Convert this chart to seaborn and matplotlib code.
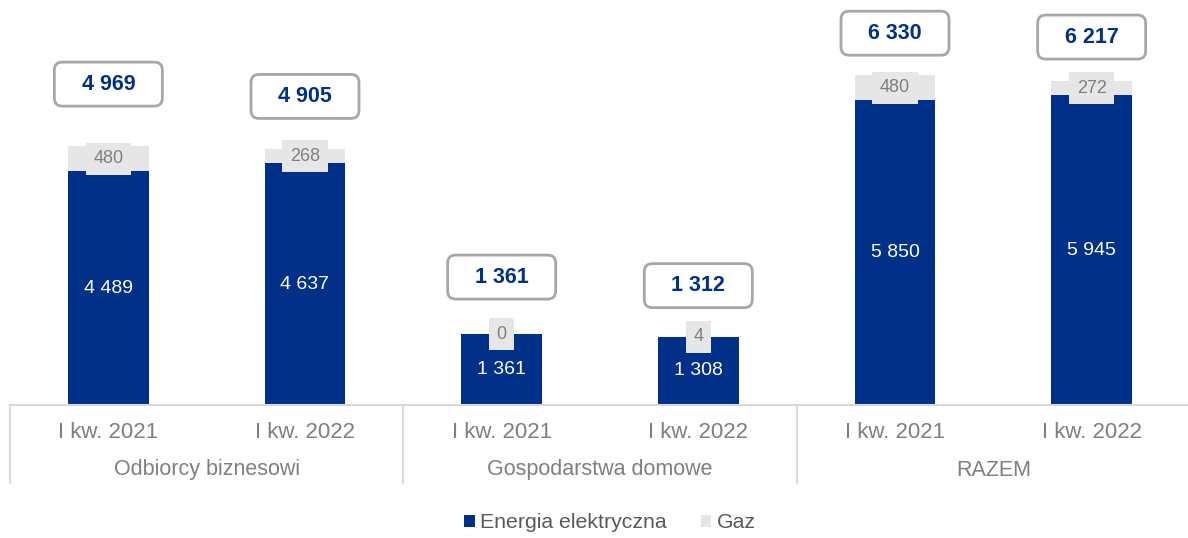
import matplotlib
matplotlib.use("Agg")
import matplotlib.pyplot as plt
import seaborn as sns
import pandas as pd
from matplotlib.patches import Patch, FancyBboxPatch
from matplotlib.transforms import IdentityTransform

groups = ["Odbiorcy biznesowi", "Gospodarstwa domowe", "RAZEM"]
periods = ["I kw. 2021", "I kw. 2022"]
energia = [4489, 4637, 1361, 1308, 5850, 5945]
gaz = [480, 268, 0, 4, 480, 272]
razem = [4969, 4905, 1361, 1312, 6330, 6217]

BLUE = "#003087"
GRAY = "#e6e6e6"
TXT = "#7f7f7f"

sns.set_theme(style="white")
plt.rcParams['font.family'] = ['Liberation Sans', 'DejaVu Sans']

keys = [f"{g}|{p}" for g in groups for p in periods]
df = pd.DataFrame({"key": keys, "energia": energia, "gaz": gaz,
                   "total": [e + g for e, g in zip(energia, gaz)]})

DPI = 100
fig = plt.figure(figsize=(11.88, 5.38), dpi=DPI)
W, H = 1188, 538
ax = fig.add_axes([10 / W, (H - 405) / H, 1180 / W, 405 / H])

sns.barplot(data=df, x="key", y="total", order=keys, color=GRAY, width=0.41,
            saturation=1, ax=ax, linewidth=0)
sns.barplot(data=df, x="key", y="energia", order=keys, color=BLUE, width=0.41,
            saturation=1, ax=ax, linewidth=0)

ax.set_xlim(-0.5, 5.5)
ax.set_ylim(0, 7773)
ax.set_yticks([])
ax.set_xticks([])
ax.set_xlabel("")
ax.set_ylabel("")
for s in ["top", "right", "left"]:
    ax.spines[s].set_visible(False)
ax.spines["bottom"].set_color("#d9d9d9")
ax.spines["bottom"].set_linewidth(1.5)

# vertical lift (pixels) of the total-value boxes above each bar, as in the reference
box_lift = [62, 53, 57, 51, 42, 44]
BOX_W, BOX_H = 108, 44


def fmt(v):
    return f"{v:,}".replace(",", " ")


for i in range(len(keys)):
    e, g, t = energia[i], gaz[i], razem[i]
    ax.text(i, e / 2, fmt(e), ha="center", va="center", color="white", fontsize=14)
    ax.text(i, e + g / 2, fmt(g), ha="center", va="center", color=TXT, fontsize=13,
            bbox=dict(boxstyle="square,pad=0.42", fc=GRAY, ec="none"))
    xd, yd = ax.transData.transform((i, e + g))
    cy = yd + box_lift[i]
    box = FancyBboxPatch((xd - BOX_W / 2, cy - BOX_H / 2), BOX_W, BOX_H,
                         boxstyle="round,pad=0,rounding_size=8",
                         fc="white", ec="#a9a6a7", lw=2.0,
                         transform=IdentityTransform(), zorder=5)
    fig.add_artist(box)
    fig.text(xd / W, cy / H, fmt(t), ha="center", va="center", color=BLUE,
             fontsize=15.5, fontweight="bold", zorder=6)
    ax.text(i, -28 / 405, periods[i % 2], transform=ax.get_xaxis_transform(),
            ha="center", va="center", color=TXT, fontsize=16)

for j, g in enumerate(groups):
    ax.text(2 * j + 0.5, -65 / 405, g, transform=ax.get_xaxis_transform(),
            ha="center", va="center", color=TXT, fontsize=15.5)

for xs in [-0.5, 1.5, 3.5]:
    ax.plot([xs, xs], [0, -78 / 405], transform=ax.get_xaxis_transform(),
            color="#d9d9d9", lw=1.5, clip_on=False)

handles = [Patch(facecolor=BLUE, edgecolor="none", label="Energia elektryczna"),
           Patch(facecolor=GRAY, edgecolor="none", label="Gaz")]
leg = fig.legend(handles=handles, loc="center", bbox_to_anchor=(610 / W, 1 - 523 / H),
                 ncol=2, frameon=False, fontsize=15.3, handlelength=0.5, handleheight=0.5,
                 handletextpad=0.25, columnspacing=1.6)
for t in leg.get_texts():
    t.set_color("#595959")

fig.savefig("out.png", dpi=DPI)
